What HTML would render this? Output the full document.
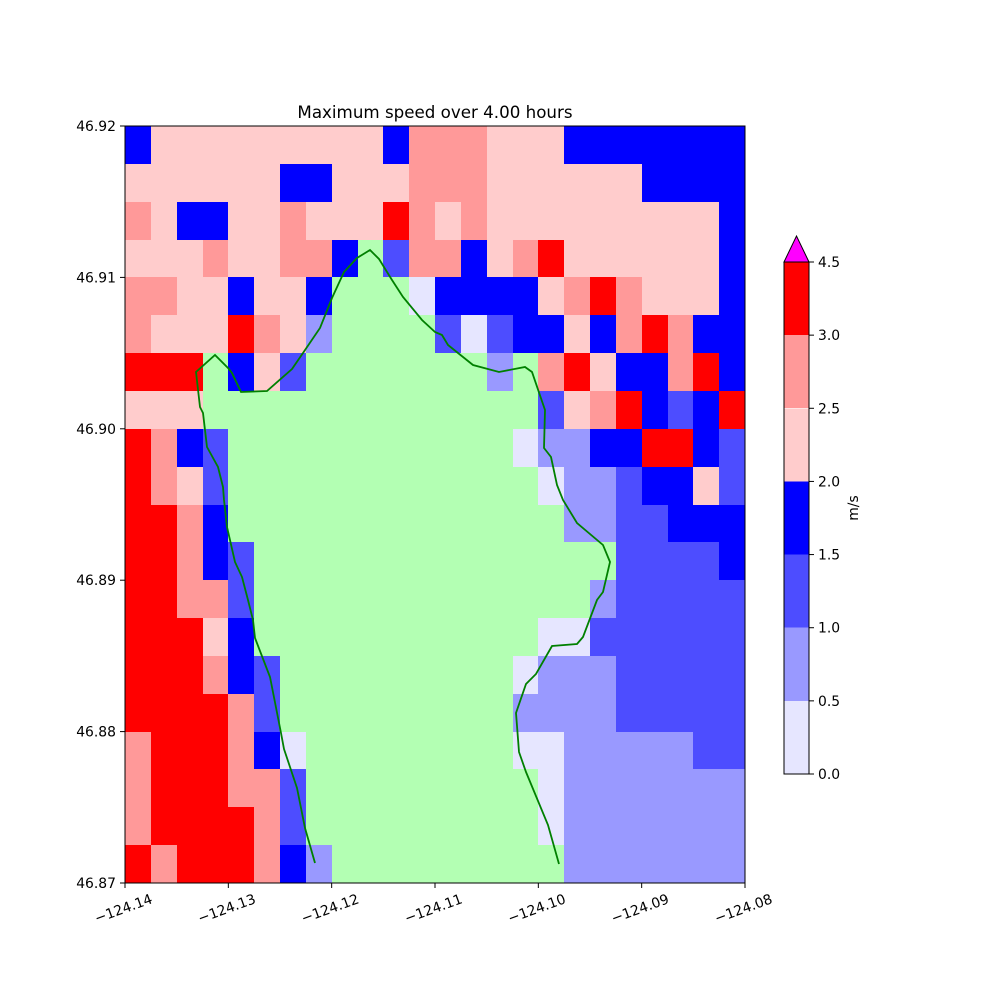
<!DOCTYPE html>
<html><head><meta charset="utf-8"><style>body{margin:0;background:#fff}svg{display:block}text{font-family:"DejaVu Sans","Liberation Sans",sans-serif;font-size:13.9px;fill:#000}</style></head>
<body>
<svg id="s" width="1000" height="1000" xmlns="http://www.w3.org/2000/svg">
<rect width="1000" height="1000" fill="#fff"/>
<g id="grid" shape-rendering="crispEdges"></g>
<polyline fill="none" stroke="#008000" stroke-width="1.8" points="315,863 305,828 297,788 284,749 281,733 270,677 255,638 253,620 248,600 242,577 235,562 227,527 224,500 223,487 218,467 207,447 203,413 200,407 196,372 215,355 228,368 232,373 241,392 267,391 292,369 303,353 320,328 332,298 344,272 357,258 370,250 379,259 392,280 403,297 422,320 435,332 442,335 448,345 473,365 499,372 525,367 532,372 545,410 544,448 551,457 557,485 563,500 577,523 603,545 610,562 603,592 597,600 583,637 577,644 552,646 536,674 526,684 516,713 519,752 526,772 548,825 559,864"/>
<rect x="125" y="126" width="620" height="757" fill="none" stroke="#000" stroke-width="1"/>
<g id="ax" stroke="#000" stroke-width="1"></g>
<g id="lab"></g>
<text x="435" y="118" text-anchor="middle" style="font-size:16.7px">Maximum speed over 4.00 hours</text>
<g id="cb" shape-rendering="crispEdges"></g>
<polygon points="784,262 796.5,236 809,262" fill="#ff00ff" stroke="#000" stroke-width="1"/>
<rect x="784" y="262" width="25" height="512" fill="none" stroke="#000" stroke-width="1"/>
<text transform="translate(858,508) rotate(-90)" text-anchor="middle">m/s</text>
</svg>
<script>
var rows=["deeeeeeeeedfffeeeddddddd","eeeeeeddeeefffeeeeeedddd","feddeefeeegfefeeeeeeeeed","eeefeeffdLcffdefgeeeeeed","ffeedeedLLLaddddefgfeeed","feeegfebLLLLcacddedfgfdd","gggLdecLLLLLLLbLfgeddfgd","eeeLLLLLLLLLLLLLcefgdcdg","gfdcLLLLLLLLLLLabbddggdc","gfecLLLLLLLLLLLLabbcddec","ggfdLLLLLLLLLLLLLbbccddd","ggfdcLLLLLLLLLLLLLLccccd","ggffcLLLLLLLLLLLLLbccccc","gggedLLLLLLLLLLLaacccccc","gggfdcLLLLLLLLLabbbccccc","ggggfcLLLLLLLLLbbbbccccc","fgggfdaLLLLLLLLaabbbbbcc","fgggffcLLLLLLLLLabbbbbbb","fggggfcLLLLLLLLLabbbbbbb","gfgggfdbLLLLLLLLLbbbbbbb"];
var C={a:"#e6e6ff",b:"#9999ff",c:"#4d4dff",d:"#0000ff",e:"#ffcccc",f:"#ff9999",g:"#ff0000",L:"#b3ffb3"};
var ns="http://www.w3.org/2000/svg",h="";
var cw=620/24,rh=757/20;
for(var r=0;r<20;r++)for(var c=0;c<24;c++){var x0=Math.round(125+c*cw),x1=Math.round(125+(c+1)*cw),y0=Math.round(126+r*rh),y1=Math.round(126+(r+1)*rh);h+='<rect x="'+x0+'" y="'+y0+'" width="'+(x1-x0)+'" height="'+(y1-y0)+'" fill="'+C[rows[r][c]]+'"/>';}
document.getElementById("grid").innerHTML=h;
var a="",l="";
var yl=["46.92","46.91","46.90","46.89","46.88","46.87"];
for(var i=0;i<6;i++){var y=126+i*757/5;a+='<line x1="120" y1="'+y+'" x2="125" y2="'+y+'"/>';l+='<text x="116" y="'+(y+5)+'" text-anchor="end">'+yl[i]+'</text>';}
var xl=["\u2212124.14","\u2212124.13","\u2212124.12","\u2212124.11","\u2212124.10","\u2212124.09","\u2212124.08"];
for(var i=0;i<7;i++){var x=125+i*620/6;a+='<line x1="'+x+'" y1="883" x2="'+x+'" y2="888"/>';l+='<text transform="translate('+x+',913) rotate(-20)" text-anchor="middle">'+xl[i]+'</text>';}
var cols=["#e6e6ff","#9999ff","#4d4dff","#0000ff","#ffcccc","#ff9999","#ff0000"],tl=["0.0","0.5","1.0","1.5","2.0","2.5","3.0","4.5"],cb="";
var st=512/7;
for(var i=0;i<7;i++){var y1=774-i*st,y0=774-(i+1)*st;cb+='<rect x="784" y="'+y0.toFixed(1)+'" width="25" height="'+st.toFixed(1)+'" fill="'+cols[i]+'"/>';}
for(var i=0;i<8;i++){var y=774-i*st;a+='<line x1="809" y1="'+y+'" x2="814" y2="'+y+'"/>';l+='<text x="818" y="'+(y+5)+'">'+tl[i]+'</text>';}
document.getElementById("cb").innerHTML=cb;
document.getElementById("ax").innerHTML=a;
document.getElementById("lab").innerHTML=l;
</script>
</body></html>
